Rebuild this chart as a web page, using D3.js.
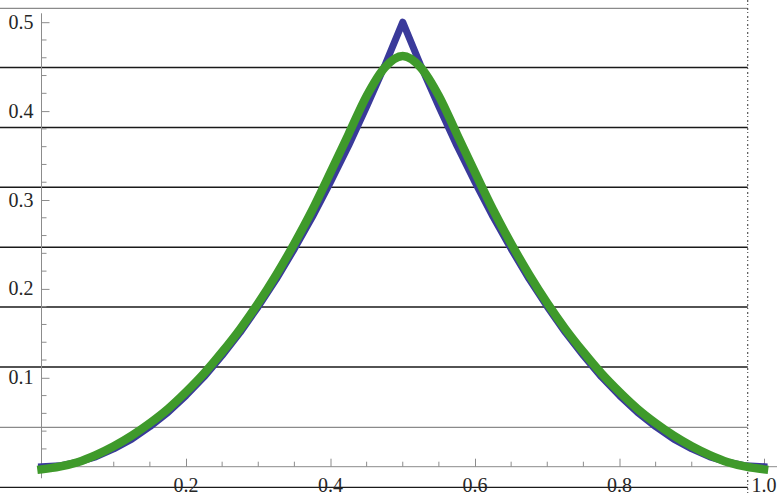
<html>
<meta charset="utf-8" />
<head>
<title>Tent curve and smooth approximation</title>
<script src="https://cdn.jsdelivr.net/npm/d3@7/dist/d3.min.js"></script>
<style>
	body { margin: 0; background: #fff; }
</style>
<script>
// sample positions along x
let xs = [0, 0.025, 0.05, 0.075, 0.1, 0.125, 0.15, 0.175, 0.2, 0.225, 0.25, 0.275, 0.3, 0.325, 0.35, 0.375, 0.4, 0.425, 0.45, 0.475, 0.5,
	0.525, 0.55, 0.575, 0.6, 0.625, 0.65, 0.675, 0.7, 0.725, 0.75, 0.775, 0.8, 0.825, 0.85, 0.875, 0.9, 0.925, 0.95, 0.975, 1];

// blue: the peaked curve
let blueVals = [0, 0.001, 0.005, 0.011, 0.02, 0.031, 0.045, 0.061, 0.08, 0.101, 0.125, 0.151, 0.18, 0.211, 0.245, 0.281, 0.32, 0.361, 0.405, 0.451, 0.5,
	0.451, 0.405, 0.361, 0.32, 0.281, 0.245, 0.211, 0.18, 0.151, 0.125, 0.101, 0.08, 0.061, 0.045, 0.031, 0.02, 0.011, 0.005, 0.001, 0];

// green: the smooth one
let greenVals = [-0.003, 0.0, 0.005, 0.013, 0.023, 0.035, 0.049, 0.065, 0.084, 0.105, 0.129, 0.155, 0.184, 0.216, 0.251, 0.289, 0.331, 0.374, 0.417, 0.449, 0.462,
	0.449, 0.417, 0.374, 0.331, 0.289, 0.251, 0.216, 0.184, 0.155, 0.129, 0.105, 0.084, 0.065, 0.049, 0.035, 0.023, 0.013, 0.005, 0.0, -0.003];

let xMajor = [0.2, 0.4, 0.6, 0.8, 1.0];
let xTickLabels = ['0.2', '0.4', '0.6', '0.8', '1.0'];
let yMajor = [0.1, 0.2, 0.3, 0.4, 0.5];
let yTickLabels = ['0.1', '0.2', '0.3', '0.4', '0.5'];

// scanned page lines behind the plot (in y units) and the dotted edge (in x units)
let ruleLevels = [0.5156, 0.449, 0.3816, 0.3143, 0.2468, 0.1796, 0.1121, 0.0443, -0.0233];
let ruleGray = [true, false, false, false, false, false, false, true, false];
let edgeX = [0.9775];

window.onload = function() {
	let width = 777, height = 495;
	let svg = d3.select('svg').attr('width', width).attr('height', height);
	let font = "'Liberation Serif', 'Times New Roman', Times, serif";

	let x = d3.scaleLinear().domain([0, 1]).range([41.5, 764]);
	let y = d3.scaleLinear().domain([0, 0.5]).range([466.7, 22.2]);

	// page lines
	svg.selectAll('line.rule')
	.data(ruleLevels)
	.enter()
	.append('line')
	.attr('class', 'rule')
	.attr('x1', 0)
	.attr('x2', x(edgeX[0]))
	.attr('y1', (d) => y(d))
	.attr('y2', (d) => y(d))
	.style('stroke', (d, i) => ruleGray[i] ? '#8a8a8a' : '#1a1a1a')
	.style('stroke-width', (d, i) => ruleGray[i] ? 1.2 : 1.4);

	svg.selectAll('line.edge')
	.data(edgeX)
	.enter()
	.append('line')
	.attr('class', 'edge')
	.attr('x1', (d) => x(d)).attr('x2', (d) => x(d))
	.attr('y1', 0).attr('y2', height)
	.style('stroke', '#333')
	.style('stroke-width', 1)
	.style('stroke-dasharray', '2,2,1,3');

	// axes lines
	let axisColor = '#8c8c8c';
	svg.append('line')
	.attr('x1', x(0)).attr('x2', x(0))
	.attr('y1', y(0.51)).attr('y2', y(-0.013))
	.style('stroke', axisColor).style('stroke-width', 1);
	svg.append('line')
	.attr('x1', x(-0.005)).attr('x2', x(1.02))
	.attr('y1', y(0)).attr('y2', y(0))
	.style('stroke', axisColor).style('stroke-width', 1);

	// minor ticks
	let xMinor = d3.range(1, 21).map((i) => i * 0.05).filter((v) => Math.abs(v / 0.2 - Math.round(v / 0.2)) > 1e-6);
	let yMinor = d3.range(1, 26).map((i) => i * 0.02).filter((v) => Math.abs(v / 0.1 - Math.round(v / 0.1)) > 1e-6);

	svg.selectAll('line.xminor').data(xMinor).enter().append('line')
	.attr('x1', (d) => x(d)).attr('x2', (d) => x(d))
	.attr('y1', y(0)).attr('y2', y(0) - 5)
	.style('stroke', axisColor);
	svg.selectAll('line.yminor').data(yMinor).enter().append('line')
	.attr('y1', (d) => y(d)).attr('y2', (d) => y(d))
	.attr('x1', x(0)).attr('x2', x(0) + 5)
	.style('stroke', axisColor);

	// major ticks (inward)
	let xAxis = d3.axisBottom(x).tickValues(xMajor).tickSize(-8).tickFormat('');
	let gx = svg.append('g').attr('transform', 'translate(0,' + y(0) + ')').call(xAxis);
	let yAxis = d3.axisLeft(y).tickValues(yMajor).tickSize(-8).tickFormat('');
	let gy = svg.append('g').attr('transform', 'translate(' + x(0) + ',0)').call(yAxis);
	[gx, gy].forEach((g) => {
		g.select('.domain').remove();
		g.selectAll('.tick line').style('stroke', axisColor);
	});

	// tick labels
	svg.selectAll('text.xlab')
	.data(xMajor)
	.enter()
	.append('text')
	.attr('class', 'xlab')
	.attr('x', (d) => x(d))
	.attr('y', y(0) + 25)
	.attr('text-anchor', 'middle')
	.attr('font-family', font)
	.attr('font-size', 20)
	.attr('fill', '#262626')
	.text((d, i) => xTickLabels[i]);

	svg.selectAll('text.ylab')
	.data(yMajor)
	.enter()
	.append('text')
	.attr('class', 'ylab')
	.attr('x', x(0) - 8)
	.attr('y', (d) => y(d) + 6.5)
	.attr('text-anchor', 'end')
	.attr('font-family', font)
	.attr('font-size', 20)
	.attr('fill', '#262626')
	.text((d, i) => yTickLabels[i]);

	// curves
	let pts = xs.map((v, i) => ({ x: v, b: blueVals[i], g: greenVals[i] }));

	let blueLine = d3.line().x((d) => x(d.x)).y((d) => y(d.b)).curve(d3.curveLinear);
	let greenLine = d3.line().x((d) => x(d.x)).y((d) => y(d.g)).curve(d3.curveMonotoneX);

	svg.append('path')
	.attr('d', blueLine(pts))
	.style('fill', 'none')
	.style('stroke', '#3a3a9a')
	.style('stroke-width', 7)
	.style('stroke-linejoin', 'round')
	.style('stroke-linecap', 'square');

	svg.append('path')
	.attr('d', greenLine(pts))
	.style('fill', 'none')
	.style('stroke', '#3f9a2b')
	.style('stroke-width', 8.5)
	.style('stroke-linejoin', 'round')
	.style('stroke-linecap', 'square');
}
</script>
</head>
<body>
<svg></svg>
</body>
</html>
